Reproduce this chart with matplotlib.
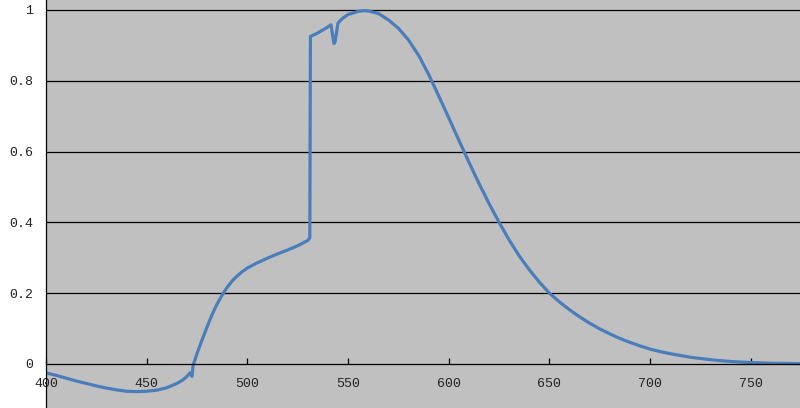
import matplotlib
matplotlib.use("Agg")
import matplotlib.pyplot as plt

# wavelength (nm) and relative response
wl = [400, 405, 410, 415, 420, 425, 430, 435, 440, 445, 450, 455, 460, 465,
      468, 470, 471.5, 472.5, 473, 475, 477.5, 480, 482.5, 485, 488, 490,
      492.5, 495, 497.5, 500, 505, 510, 515, 520, 525, 530, 531, 531.3, 535,
      540, 541.5, 543, 543.5, 545, 547, 550, 555, 558, 560, 565, 570, 575,
      580, 585, 590, 595, 600, 605, 610, 615, 620, 625, 630, 635, 640, 645,
      650, 655, 660, 665, 670, 675, 680, 685, 690, 695, 700, 705, 710, 720,
      730, 740, 750, 760, 775]
resp = [-0.025, -0.032, -0.040, -0.048, -0.055, -0.062, -0.068, -0.073, -0.077,
        -0.078, -0.077, -0.074, -0.067, -0.055, -0.045, -0.035, -0.025, -0.035,
        -0.005, 0.03, 0.068, 0.105, 0.14, 0.17, 0.20, 0.217, 0.235, 0.249,
        0.261, 0.271, 0.286, 0.299, 0.311, 0.322, 0.334, 0.349, 0.356, 0.925,
        0.935, 0.952, 0.958, 0.905, 0.91, 0.963, 0.975, 0.987, 0.996, 0.998,
        0.997, 0.99, 0.972, 0.948, 0.915, 0.872, 0.818, 0.757, 0.695, 0.632,
        0.57, 0.51, 0.453, 0.40, 0.35, 0.305, 0.266, 0.231, 0.20, 0.175, 0.153,
        0.133, 0.115, 0.099, 0.085, 0.072, 0.061, 0.051, 0.042, 0.035, 0.029,
        0.019, 0.012, 0.007, 0.004, 0.002, 0.001]

xticks = [400, 450, 500, 550, 600, 650, 700, 750]
yticks = [0, 0.2, 0.4, 0.6, 0.8, 1]
ylabels = ["0", "0.2", "0.4", "0.6", "0.8", "1"]

fig = plt.figure(figsize=(8, 4.08), dpi=100)
ax = fig.add_axes([46 / 800, 0, 754 / 800, 1])
ax.set_facecolor("#c0c0c0")

ax.plot(wl, resp, color="#4a7ebb", lw=2.3, solid_joinstyle="round")

ax.set_xlim(400, 774.4)
ax.set_ylim(-0.1243, 1.028)

for v in yticks[1:]:
    ax.axhline(v, color="black", lw=0.9, zorder=1)

ax.spines["top"].set_visible(False)
ax.spines["right"].set_visible(False)
ax.spines["bottom"].set_position(("data", 0))
ax.spines["bottom"].set_linewidth(0.9)
ax.spines["left"].set_linewidth(0.9)

ax.set_xticks(xticks)
ax.set_xticklabels([str(t) for t in xticks])
ax.set_yticks(yticks)
ax.set_yticklabels(ylabels)
ax.tick_params(axis="x", direction="in", length=4, width=0.9, pad=10,
               labelsize=9.5, labelcolor="#222222")
ax.tick_params(axis="y", length=0, pad=9.5, labelsize=9.5, labelcolor="#222222")
for lab in ax.get_xticklabels() + ax.get_yticklabels():
    lab.set_family("Liberation Mono")

fig.savefig("out.png", dpi=100, facecolor="white")
